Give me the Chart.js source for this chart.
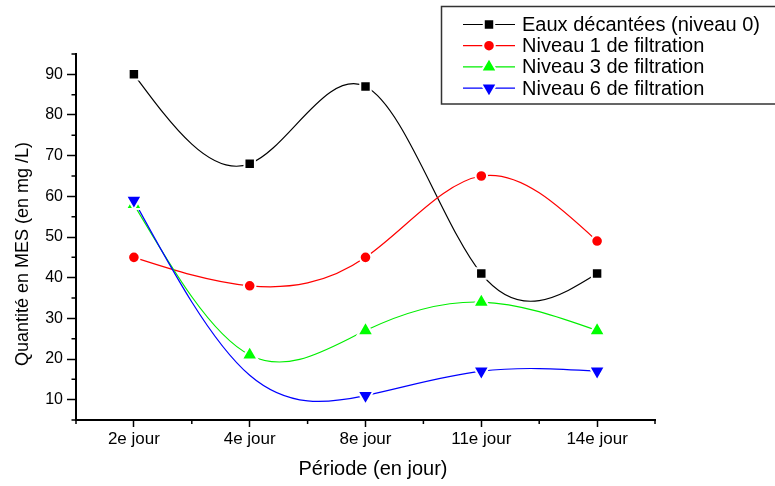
<!DOCTYPE html>
<html>
<head>
<meta charset="utf-8">
<script src="https://cdn.jsdelivr.net/npm/chart.js@4/dist/chart.umd.min.js"></script>
<style>
  body { margin: 0; background: #fff; }
  #cadre { width: 775px; height: 486px; }
</style>
</head>
<body>
<div id="cadre"><canvas id="graphique"></canvas></div>
<script>
const categories = ['2e jour', '4e jour', '8e jour', '11e jour', '14e jour'];
const eauxDecantees = [90, 68, 87, 41, 41];
const niveau1 = [45, 38, 45, 65, 49];
const niveau3 = [58, 21, 27, 34, 27];
const niveau6 = [59, 16, 11, 17, 17];
const yTicks = [10, 20, 30, 40, 50, 60, 70, 80, 90];
const yMinorTicks = [5, 15, 25, 35, 45, 55, 65, 75, 85, 95];

const police = '"Liberation Sans", Arial, sans-serif';
Chart.defaults.font.family = police;
Chart.defaults.color = '#000';

// courbe spline naturelle passant par les points (comme Origin)
function splineNaturelle(xs, ys) {
    const n = xs.length - 1;
    const h = [];
    for (let i = 0; i < n; i++) h[i] = xs[i + 1] - xs[i];
    const M = new Array(n + 1).fill(0);
    const b = [], c = [], r = [];
    for (let i = 1; i < n; i++) {
        b[i] = 2 * (h[i - 1] + h[i]);
        c[i] = h[i];
        r[i] = 6 * ((ys[i + 1] - ys[i]) / h[i] - (ys[i] - ys[i - 1]) / h[i - 1]);
    }
    for (let i = 2; i < n; i++) {
        const m = h[i - 1] / b[i - 1];
        b[i] -= m * c[i - 1];
        r[i] -= m * r[i - 1];
    }
    for (let i = n - 1; i >= 1; i--) {
        M[i] = (r[i] - (i < n - 1 ? c[i] * M[i + 1] : 0)) / b[i];
    }
    const d = [];
    for (let i = 0; i < n; i++) d[i] = (ys[i + 1] - ys[i]) / h[i] - h[i] * (2 * M[i] + M[i + 1]) / 6;
    d[n] = (ys[n] - ys[n - 1]) / h[n - 1] + h[n - 1] * (M[n - 1] + 2 * M[n]) / 6;
    return d;
}

const pluginSpline = {
    id: 'spline',
    beforeDatasetsDraw(chart) {
        const ctx = chart.ctx;
        chart.data.datasets.forEach((ds, i) => {
            const pts = chart.getDatasetMeta(i).data;
            const xs = pts.map(p => p.x);
            const ys = pts.map(p => p.y);
            const d = splineNaturelle(xs, ys);
            ctx.save();
            ctx.strokeStyle = ds.borderColor;
            ctx.lineWidth = 1.2;
            ctx.beginPath();
            ctx.moveTo(xs[0], ys[0]);
            for (let k = 0; k < xs.length - 1; k++) {
                const h = xs[k + 1] - xs[k];
                ctx.bezierCurveTo(xs[k] + h / 3, ys[k] + d[k] * h / 3,
                    xs[k + 1] - h / 3, ys[k + 1] - d[k + 1] * h / 3,
                    xs[k + 1], ys[k + 1]);
            }
            ctx.stroke();
            ctx.restore();
        });
    }
};

const pluginDecor = {
    id: 'decor',
    afterDraw(chart) {
        const ctx = chart.ctx;
        const x = chart.scales.x, y = chart.scales.y;
        const area = chart.chartArea;
        ctx.save();
        ctx.strokeStyle = '#000';
        ctx.lineWidth = 1.5;
        // petites graduations
        ctx.beginPath();
        yMinorTicks.forEach(v => {
            const py = y.getPixelForValue(v);
            ctx.moveTo(area.left - 4.5, py);
            ctx.lineTo(area.left, py);
        });
        const bords = [area.left, area.right];
        for (let i = 0; i < categories.length - 1; i++) {
            bords.push((x.getPixelForValue(i) + x.getPixelForValue(i + 1)) / 2);
        }
        bords.forEach(px => {
            ctx.moveTo(px, area.bottom);
            ctx.lineTo(px, area.bottom + 4);
        });
        ctx.stroke();

        // titres des axes
        ctx.fillStyle = '#000';
        ctx.textAlign = 'center';
        ctx.textBaseline = 'middle';
        ctx.font = '20px ' + police;
        ctx.fillText('Période (en jour)', 373, 469);
        ctx.save();
        ctx.translate(23, 254);
        ctx.rotate(-Math.PI / 2);
        ctx.font = '18px ' + police;
        ctx.fillText('Quantité en MES (en mg /L)', 0, 0);
        ctx.restore();

        // légende
        ctx.fillStyle = '#fff';
        ctx.fillRect(441.5, 6.5, 340, 97.5);
        ctx.strokeStyle = '#333';
        ctx.lineWidth = 1.5;
        ctx.strokeRect(441.5, 6.5, 340, 97.5);
        chart.data.datasets.forEach((ds, i) => {
            const ly = 24.5 + i * 21.2;
            ctx.strokeStyle = ds.borderColor;
            ctx.lineWidth = 1.2;
            ctx.beginPath();
            ctx.moveTo(463, ly);
            ctx.lineTo(515, ly);
            ctx.stroke();
            ctx.fillStyle = ds.pointBackgroundColor;
            ctx.strokeStyle = '#fff';
            ctx.lineWidth = 2;
            Chart.helpers.drawPoint(ctx, {
                pointStyle: ds.pointStyle,
                rotation: ds.pointRotation || 0,
                radius: ds.legendRadius,
                borderWidth: 2
            }, 489, ly);
            ctx.fillStyle = '#000';
            ctx.textAlign = 'left';
            ctx.font = '20px ' + police;
            ctx.fillText(ds.label, 522, ly + 1);
        });
        ctx.restore();
    }
};

const dessinerGraphique = () => {
    const ctx = document.getElementById('graphique').getContext('2d');
    const tri = 9.2;

    new Chart(ctx, {
        type: 'line',
        data: {
            labels: categories,
            datasets: [
                {
                    label: 'Eaux décantées (niveau 0)', data: eauxDecantees,
                    borderColor: '#000', pointBackgroundColor: '#000',
                    pointStyle: 'rect', pointRadius: 7.4, legendRadius: 7.4, order: 1
                },
                {
                    label: 'Niveau 1 de filtration', data: niveau1,
                    borderColor: '#ff0000', pointBackgroundColor: '#ff0000',
                    pointStyle: 'circle', pointRadius: 5.8, legendRadius: 5.8, order: 2
                },
                {
                    label: 'Niveau 3 de filtration', data: niveau3,
                    borderColor: '#00ee00', pointBackgroundColor: '#00ff00',
                    pointStyle: 'triangle', pointRadius: tri, legendRadius: tri, order: 3
                },
                {
                    label: 'Niveau 6 de filtration', data: niveau6,
                    borderColor: '#0000ff', pointBackgroundColor: '#0000ff',
                    pointStyle: 'triangle', pointRotation: 180,
                    pointRadius: [tri, 0, tri, tri, tri], legendRadius: tri, order: 0
                }
            ].map(ds => Object.assign({
                showLine: false,
                pointBorderColor: '#fff',
                pointBorderWidth: 2
            }, ds))
        },
        options: {
            responsive: true,
            maintainAspectRatio: false,
            animation: false,
            events: [],
            layout: { padding: { top: 54, right: 120, left: 0, bottom: 0 } },
            plugins: {
                legend: { display: false },
                tooltip: { enabled: false }
            },
            scales: {
                x: {
                    offset: true,
                    afterFit: s => { s.height = 66; },
                    grid: { offset: false, drawOnChartArea: false, tickLength: 7, tickWidth: 1.5, tickColor: '#000' },
                    border: { color: '#000', width: 2 },
                    ticks: { font: { size: 17 }, color: '#000', padding: 2, maxRotation: 0 }
                },
                y: {
                    min: 5,
                    max: 95,
                    afterFit: s => { s.width = 76; },
                    afterBuildTicks: s => { s.ticks = yTicks.map(v => ({ value: v })); },
                    grid: { drawOnChartArea: false, tickLength: 9, tickWidth: 1.5, tickColor: '#000' },
                    border: { color: '#000', width: 2 },
                    ticks: { font: { size: 16 }, color: '#000', padding: 4 }
                }
            }
        },
        plugins: [pluginSpline, pluginDecor]
    });
};

window.onload = dessinerGraphique;
</script>
</body>
</html>
